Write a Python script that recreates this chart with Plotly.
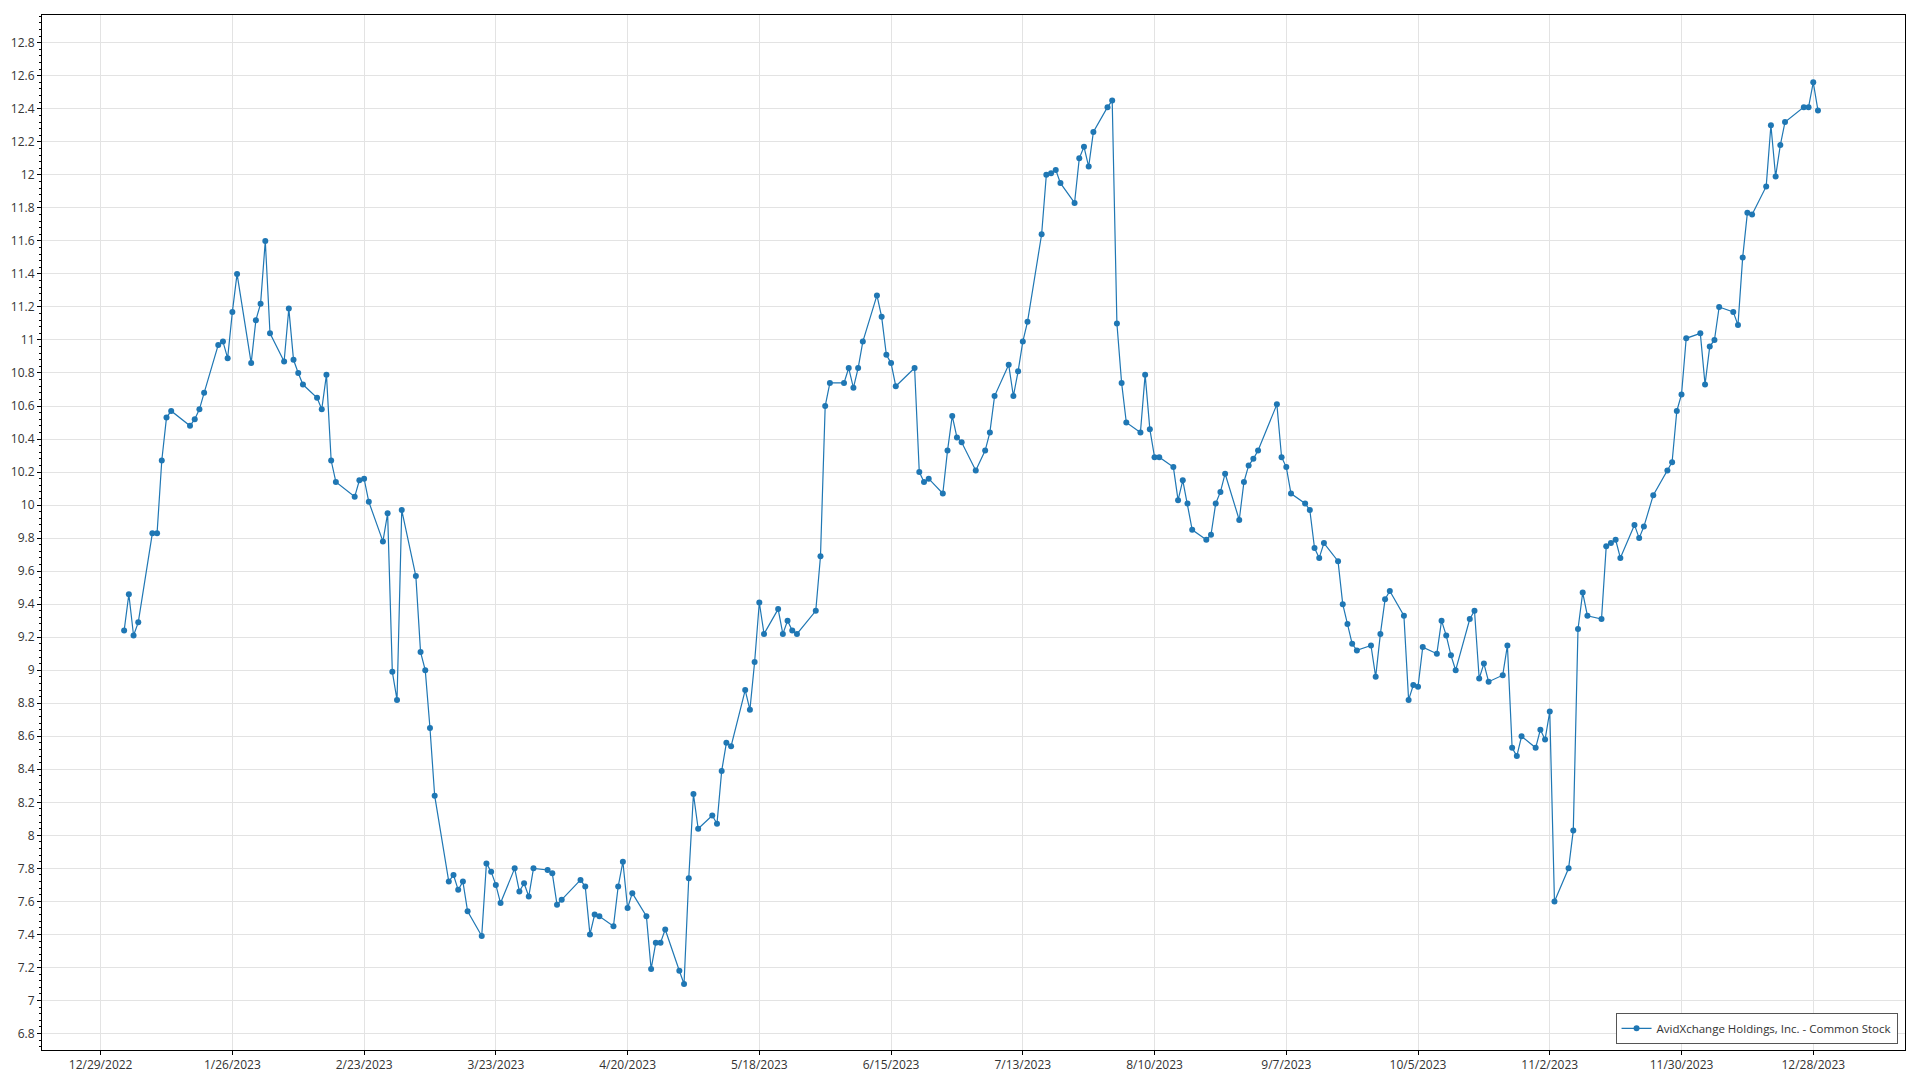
import pandas as pd
import plotly.graph_objects as go

series_name = "AvidXchange Holdings, Inc. - Common Stock"

# NYSE holidays of 2023 (dates on which there is no point)
holidays = ["2023-01-02", "2023-01-16", "2023-02-20", "2023-04-07", "2023-05-29",
            "2023-06-19", "2023-07-04", "2023-09-04", "2023-11-23", "2023-12-25"]

jan = [9.24, 9.46, 9.21, 9.29, 9.83, 9.83, 10.27, 10.53, 10.57, 10.48, 10.52, 10.58, 10.68,
       10.97, 10.99, 10.89, 11.17, 11.40, 10.86, 11.12]
feb = [11.22, 11.60, 11.04, 10.87, 11.19, 10.88, 10.80, 10.73, 10.65, 10.58, 10.79, 10.27,
       10.14, 10.05, 10.15, 10.16, 10.02, 9.78, 9.95]
mar = [8.99, 8.82, 9.97, 9.57, 9.11, 9.00, 8.65, 8.24, 7.72, 7.76, 7.67, 7.72, 7.54, 7.39,
       7.83, 7.78, 7.70, 7.59, 7.80, 7.66, 7.71, 7.63, 7.80]
apr = [7.79, 7.77, 7.58, 7.61, 7.73, 7.69, 7.40, 7.52, 7.51, 7.45, 7.69, 7.84, 7.56, 7.65,
       7.51, 7.19, 7.35, 7.35, 7.43]
may = [7.18, 7.10, 7.74, 8.25, 8.04, 8.12, 8.07, 8.39, 8.56, 8.54, 8.88, 8.76, 9.05, 9.41,
       9.22, 9.37, 9.22, 9.30, 9.24, 9.22, 9.36, 9.69]
jun = [10.60, 10.74, 10.74, 10.83, 10.71, 10.83, 10.99, 11.27, 11.14, 10.91, 10.86, 10.72,
       10.83, 10.20, 10.14, 10.16, 10.07, 10.33, 10.54, 10.41, 10.38]
jul = [10.21, 10.33, 10.44, 10.66, 10.85, 10.66, 10.81, 10.99, 11.11, 11.64, 12.00, 12.01,
       12.03, 11.95, 11.83, 12.10, 12.17, 12.05, 12.26, 12.41]
aug = [12.45, 11.10, 10.74, 10.50, 10.44, 10.79, 10.46, 10.29, 10.29, 10.23, 10.03, 10.15,
       10.01, 9.85, 9.79, 9.82, 10.01, 10.08, 10.19, 9.91, 10.14, 10.24, 10.28]
sep = [10.33, 10.61, 10.29, 10.23, 10.07, 10.01, 9.97, 9.74, 9.68, 9.77, 9.66, 9.40, 9.28,
       9.16, 9.12, 9.15, 8.96, 9.22, 9.43, 9.48]
octo = [9.33, 8.82, 8.91, 8.90, 9.14, 9.10, 9.30, 9.21, 9.09, 9.00, 9.31, 9.36, 8.95, 9.04,
        8.93, 8.97, 9.15, 8.53, 8.48, 8.60, 8.53, 8.64]
nov = [8.58, 8.75, 7.60, 7.80, 8.03, 9.25, 9.47, 9.33, 9.31, 9.75, 9.77, 9.79, 9.68, 9.88,
       9.80, 9.87, 10.06, 10.21, 10.26, 10.57, 10.67]
dec = [11.01, 11.04, 10.73, 10.96, 11.00, 11.20, 11.17, 11.09, 11.50, 11.77, 11.76, 11.93,
       12.30, 11.99, 12.18, 12.32, 12.41, 12.41, 12.56, 12.39]

prices = jan + feb + mar + apr + may + jun + jul + aug + sep + octo + nov + dec
dates = pd.bdate_range("2023-01-03", "2023-12-29", freq="C", holidays=holidays)
assert len(dates) == len(prices)

tick_dates = pd.date_range("2022-12-29", periods=14, freq="28D")
tick_text = [f"{d.month}/{d.day}/{d.year}" for d in tick_dates]

FONT = "Open Sans"
BLUE = "#1f77b4"
GRID = "#e3e3e3"
TEXT = "#333"

fig = go.Figure()
fig.add_trace(go.Scatter(
    x=dates, y=prices, mode="lines+markers", name=series_name,
    line=dict(color=BLUE, width=1.2),
    marker=dict(color=BLUE, size=6),
))

fig.update_layout(
    width=1920, height=1080,
    margin=dict(l=42, r=15, t=15, b=30),
    paper_bgcolor="white", plot_bgcolor="white",
    font=dict(family=FONT, size=12, color=TEXT),
    showlegend=True,
    legend=dict(
        x=0.996, y=0.006, xanchor="right", yanchor="bottom",
        bgcolor="white", bordercolor="#555", borderwidth=1,
        font=dict(family=FONT, size=11.5, color=TEXT),
    ),
)

fig.update_xaxes(
    type="date", automargin=False,
    range=["2022-12-16 13:00", "2024-01-16 12:00"],
    tickvals=tick_dates, ticktext=tick_text,
    showgrid=True, gridcolor=GRID, gridwidth=1,
    showline=True, linecolor="black", linewidth=1, mirror=True,
    ticks="outside", ticklen=4, tickcolor="black",
    zeroline=False,
)
fig.update_yaxes(
    automargin=False,
    range=[6.70, 12.968], dtick=0.2, tick0=0,
    showgrid=True, gridcolor=GRID, gridwidth=1,
    showline=True, linecolor="black", linewidth=1, mirror=True,
    ticks="outside", ticklen=4, tickcolor="black",
    minor=dict(dtick=0.04, ticks="outside", ticklen=2, tickcolor="black", showgrid=False),
    zeroline=False,
)

fig.write_html(
    "out.html",
    config={"displayModeBar": False},
    post_script="document.body.style.margin='0';document.body.style.padding='0';",
)
